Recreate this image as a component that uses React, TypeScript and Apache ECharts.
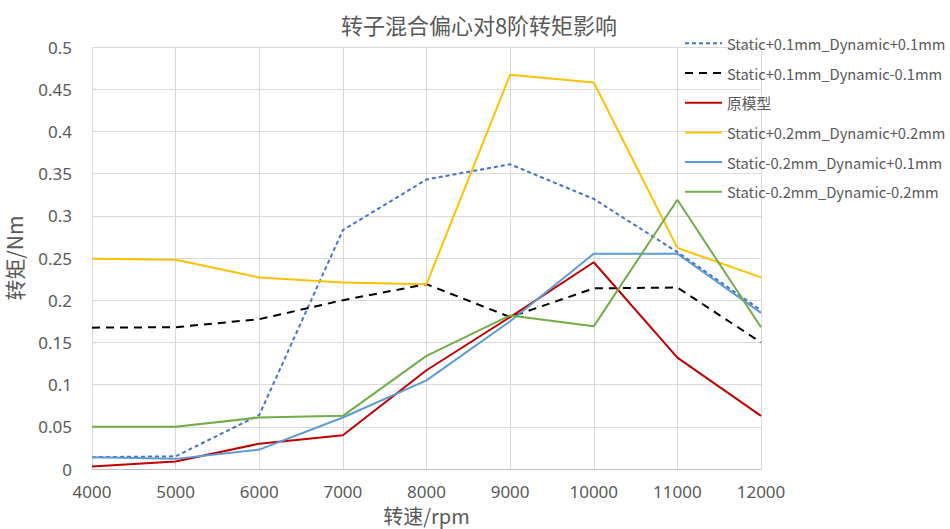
import React, { useEffect, useRef } from "react";
import * as echarts from "echarts";

const categories = ["4000", "5000", "6000", "7000", "8000", "9000", "10000", "11000", "12000"];
const s1Name = "Static+0.1mm_Dynamic+0.1mm";
const s1 = [0.014, 0.015, 0.064, 0.283, 0.343, 0.361, 0.32, 0.257, 0.188];
const s2Name = "Static+0.1mm_Dynamic-0.1mm";
const s2 = [0.1675, 0.168, 0.1775, 0.2, 0.219, 0.18, 0.214, 0.215, 0.15];
const s3Name = "原模型";
const s3 = [0.003, 0.009, 0.03, 0.04, 0.117, 0.18, 0.245, 0.132, 0.063];
const s4Name = "Static+0.2mm_Dynamic+0.2mm";
const s4 = [0.249, 0.248, 0.227, 0.221, 0.219, 0.467, 0.458, 0.262, 0.227];
const s5Name = "Static-0.2mm_Dynamic+0.1mm";
const s5 = [0.014, 0.012, 0.023, 0.061, 0.105, 0.175, 0.255, 0.255, 0.185];
const s6Name = "Static-0.2mm_Dynamic-0.2mm";
const s6 = [0.05, 0.05, 0.061, 0.063, 0.134, 0.182, 0.169, 0.319, 0.168];

const font = "'Noto Sans CJK SC', 'Noto Sans', sans-serif";
const latin = "'Noto Sans', sans-serif";
const textColor = "#595959";

export default function App() {
  const ref = useRef<HTMLDivElement>(null);
  useEffect(() => {
    if (!ref.current) return;
    const chart = echarts.init(ref.current, undefined, { renderer: "svg" });
    const mk = (name: string, data: number[], color: string, type: any, width = 2) => ({
      name,
      type: "line",
      data,
      symbol: "none",
      showSymbol: false,
      lineStyle: { color, width, type },
      itemStyle: { color },
    });
    chart.setOption({
      animation: false,
      textStyle: { fontFamily: font },
      title: {
        text: "转子混合偏心对8阶转矩影响",
        left: 474,
        textAlign: "center",
        top: 8,
        textStyle: { color: textColor, fontSize: 22, fontWeight: "normal", fontFamily: font },
      },
      legend: {
        orient: "vertical",
        left: 684,
        top: 36,
        padding: 0,
        itemWidth: 37,
        itemHeight: 14,
        itemGap: 15,
        itemStyle: { opacity: 0 },
        textStyle: { color: textColor, fontSize: 14.7, fontFamily: font },
        data: [s1Name, s2Name, s3Name, s4Name, s5Name, s6Name],
      },
      grid: { left: 92, right: 189, top: 47, bottom: 60, containLabel: false, outerBoundsMode: "none" },
      xAxis: {
        type: "category",
        data: categories,
        boundaryGap: false,
        name: "转速/rpm",
        nameLocation: "middle",
        nameGap: 29,
        nameTextStyle: { color: textColor, fontSize: 20, lineHeight: 20, fontFamily: font },
        axisLine: { lineStyle: { color: "#BFBFBF" } },
        axisTick: { show: false },
        axisLabel: { color: textColor, fontSize: 17, lineHeight: 19, margin: 13, fontFamily: latin },
        splitLine: { show: true, lineStyle: { color: "#D9D9D9" } },
      },
      yAxis: {
        type: "value",
        min: 0,
        max: 0.5,
        interval: 0.05,
        name: "转矩/Nm",
        nameLocation: "middle",
        nameGap: 68,
        nameTextStyle: { color: textColor, fontSize: 21, fontFamily: font },
        axisLine: { show: false },
        axisTick: { show: false },
        axisLabel: {
          color: textColor,
          fontSize: 17,
          margin: 20,
          fontFamily: latin,
          formatter: (v: number) => String(parseFloat(v.toFixed(2))),
        },
        splitLine: { lineStyle: { color: "#D9D9D9" } },
      },
      series: [
        mk(s1Name, s1, "#4472C4", [4, 3]),
        mk(s2Name, s2, "#000000", [8, 6]),
        mk(s3Name, s3, "#C00000", "solid"),
        mk(s4Name, s4, "#FFC000", "solid"),
        mk(s5Name, s5, "#5B9BD5", "solid"),
        mk(s6Name, s6, "#70AD47", "solid"),
      ],
    });
    return () => chart.dispose();
  }, []);
  return <div ref={ref} style={{ width: 950, height: 529, position: "absolute", left: 0, top: 0 }} />;
}
